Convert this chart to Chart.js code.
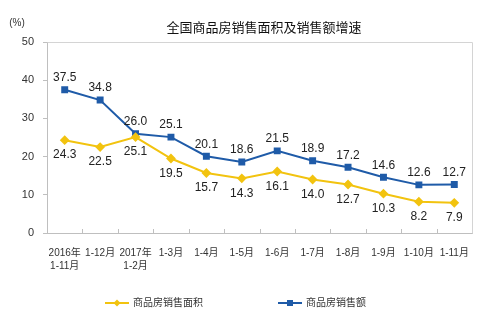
<!DOCTYPE html>
<html>
<head>
<meta charset="utf-8">
<script src="https://cdn.jsdelivr.net/npm/chart.js@4.4.0/dist/chart.umd.min.js"></script>
<style>
  html, body { margin: 0; padding: 0; background: #fff; }
  #wrap { width: 500px; height: 331px; position: relative; }
</style>
</head>
<body>
<div id="wrap"><canvas id="myChart"></canvas></div>
<script>
const months = [["2016年", "1-11月"], "1-12月", ["2017年", "1-2月"], "1-3月", "1-4月", "1-5月", "1-6月", "1-7月", "1-8月", "1-9月", "1-10月", "1-11月"];
const areaGrowth = [24.3, 22.5, 25.1, 19.5, 15.7, 14.3, 16.1, 14.0, 12.7, 10.3, 8.2, 7.9];
const salesGrowth = [37.5, 34.8, 26.0, 25.1, 20.1, 18.6, 21.5, 18.9, 17.2, 14.6, 12.6, 12.7];
const yTicks = [0, 10, 20, 30, 40, 50];
const seriesNames = ["商品房销售面积", "商品房销售额"];
const chartTitle = "全国商品房销售面积及销售额增速";

const YELLOW = '#F2C30F';
const BLUE = '#1F5BA8';
const FONT = '"Liberation Sans", "Noto Sans CJK SC", sans-serif';

// labels, frame, title, legend
const decor = {
    id: 'decor',
    afterDatasetsDraw: function(chart){
        const ctx = chart.ctx;
        const a = chart.chartArea;
        ctx.save();
        // frame top + right
        ctx.strokeStyle = '#d4d4d4';
        ctx.lineWidth = 1;
        ctx.beginPath();
        ctx.moveTo(Math.round(a.left) + 0.5, Math.round(a.top) + 0.5);
        ctx.lineTo(Math.round(a.right) + 0.5, Math.round(a.top) + 0.5);
        ctx.lineTo(Math.round(a.right) + 0.5, Math.round(a.bottom) + 0.5);
        ctx.stroke();
        // inward x ticks between categories
        const xs = chart.scales.x;
        ctx.strokeStyle = '#bfbfbf';
        for (let i = 1; i < months.length; i++) {
            const px = Math.round((xs.getPixelForValue(i - 1) + xs.getPixelForValue(i)) / 2) + 0.5;
            ctx.beginPath();
            ctx.moveTo(px, a.bottom);
            ctx.lineTo(px, a.bottom - 4);
            ctx.stroke();
        }
        // data labels
        ctx.font = '12px ' + FONT;
        ctx.fillStyle = '#222';
        ctx.textAlign = 'center';
        ctx.textBaseline = 'middle';
        chart.getDatasetMeta(0).data.forEach(function(p, i){
            ctx.fillText(areaGrowth[i].toFixed(1), p.x, p.y + 15);
        });
        chart.getDatasetMeta(1).data.forEach(function(p, i){
            ctx.fillText(salesGrowth[i].toFixed(1), p.x, p.y - 12);
        });
        // unit label
        ctx.font = '10px ' + FONT;
        ctx.fillStyle = '#333';
        ctx.fillText('(%)', 17, 23);
        // title
        ctx.font = '13px ' + FONT;
        ctx.fillStyle = '#111';
        ctx.fillText(chartTitle, 264, 28);
        // legend
        const items = [
            { x: 105, color: YELLOW, name: seriesNames[0], shape: 'diamond' },
            { x: 278, color: BLUE, name: seriesNames[1], shape: 'square' }
        ];
        const ly = 303;
        items.forEach(function(it){
            ctx.strokeStyle = it.color;
            ctx.fillStyle = it.color;
            ctx.lineWidth = 2;
            ctx.beginPath();
            ctx.moveTo(it.x, ly);
            ctx.lineTo(it.x + 24, ly);
            ctx.stroke();
            const cx = it.x + 12;
            ctx.beginPath();
            if (it.shape === 'diamond') {
                ctx.moveTo(cx, ly - 3.5); ctx.lineTo(cx + 3.5, ly); ctx.lineTo(cx, ly + 3.5); ctx.lineTo(cx - 3.5, ly);
                ctx.closePath(); ctx.fill();
            } else {
                ctx.fillRect(cx - 3, ly - 3, 6, 6);
            }
            ctx.font = '10px ' + FONT;
            ctx.fillStyle = '#333';
            ctx.textAlign = 'left';
            ctx.fillText(it.name, it.x + 28, ly);
        });
        ctx.restore();
    }
};

const ctx = document.getElementById('myChart').getContext('2d');
new Chart(ctx, {
    type: 'line',
    data: {
        labels: months,
        datasets: [
            {
                label: seriesNames[0],
                data: areaGrowth,
                borderColor: YELLOW,
                backgroundColor: YELLOW,
                borderWidth: 2,
                pointStyle: 'rectRot',
                pointRadius: 3.5,
                pointHoverRadius: 3.5,
                tension: 0,
            },
            {
                label: seriesNames[1],
                data: salesGrowth,
                borderColor: BLUE,
                backgroundColor: BLUE,
                borderWidth: 2,
                pointStyle: 'rect',
                pointRadius: 3.5,
                pointHoverRadius: 3.5,
                tension: 0,
            },
        ],
    },
    options: {
        responsive: true,
        maintainAspectRatio: false,
        animation: false,
        events: [],
        layout: { padding: { top: 42, right: 28, bottom: 58, left: 0 } },
        plugins: {
            legend: { display: false },
            title: { display: false },
            tooltip: { enabled: false },
        },
        scales: {
            x: {
                offset: true,
                grid: { display: false },
                border: { display: true, color: '#bfbfbf' },
                ticks: {
                    color: '#333',
                    font: { size: 10, family: FONT, lineHeight: 1.35 },
                    maxRotation: 0,
                    autoSkip: false,
                    padding: 5,
                },
                afterFit: function(s){ s.height = 40; },
            },
            y: {
                min: 0,
                max: 50,
                afterBuildTicks: function(s){ s.ticks = yTicks.map(function(v){ return { value: v }; }); },
                grid: { drawOnChartArea: false, tickLength: 4, color: '#bfbfbf' },
                border: { display: true, color: '#bfbfbf' },
                ticks: {
                    color: '#333',
                    font: { size: 11, family: FONT },
                    padding: 9,
                },
                afterFit: function(s){ s.width = 47; },
            },
        },
    },
    plugins: [decor],
});
</script>
</body>
</html>
